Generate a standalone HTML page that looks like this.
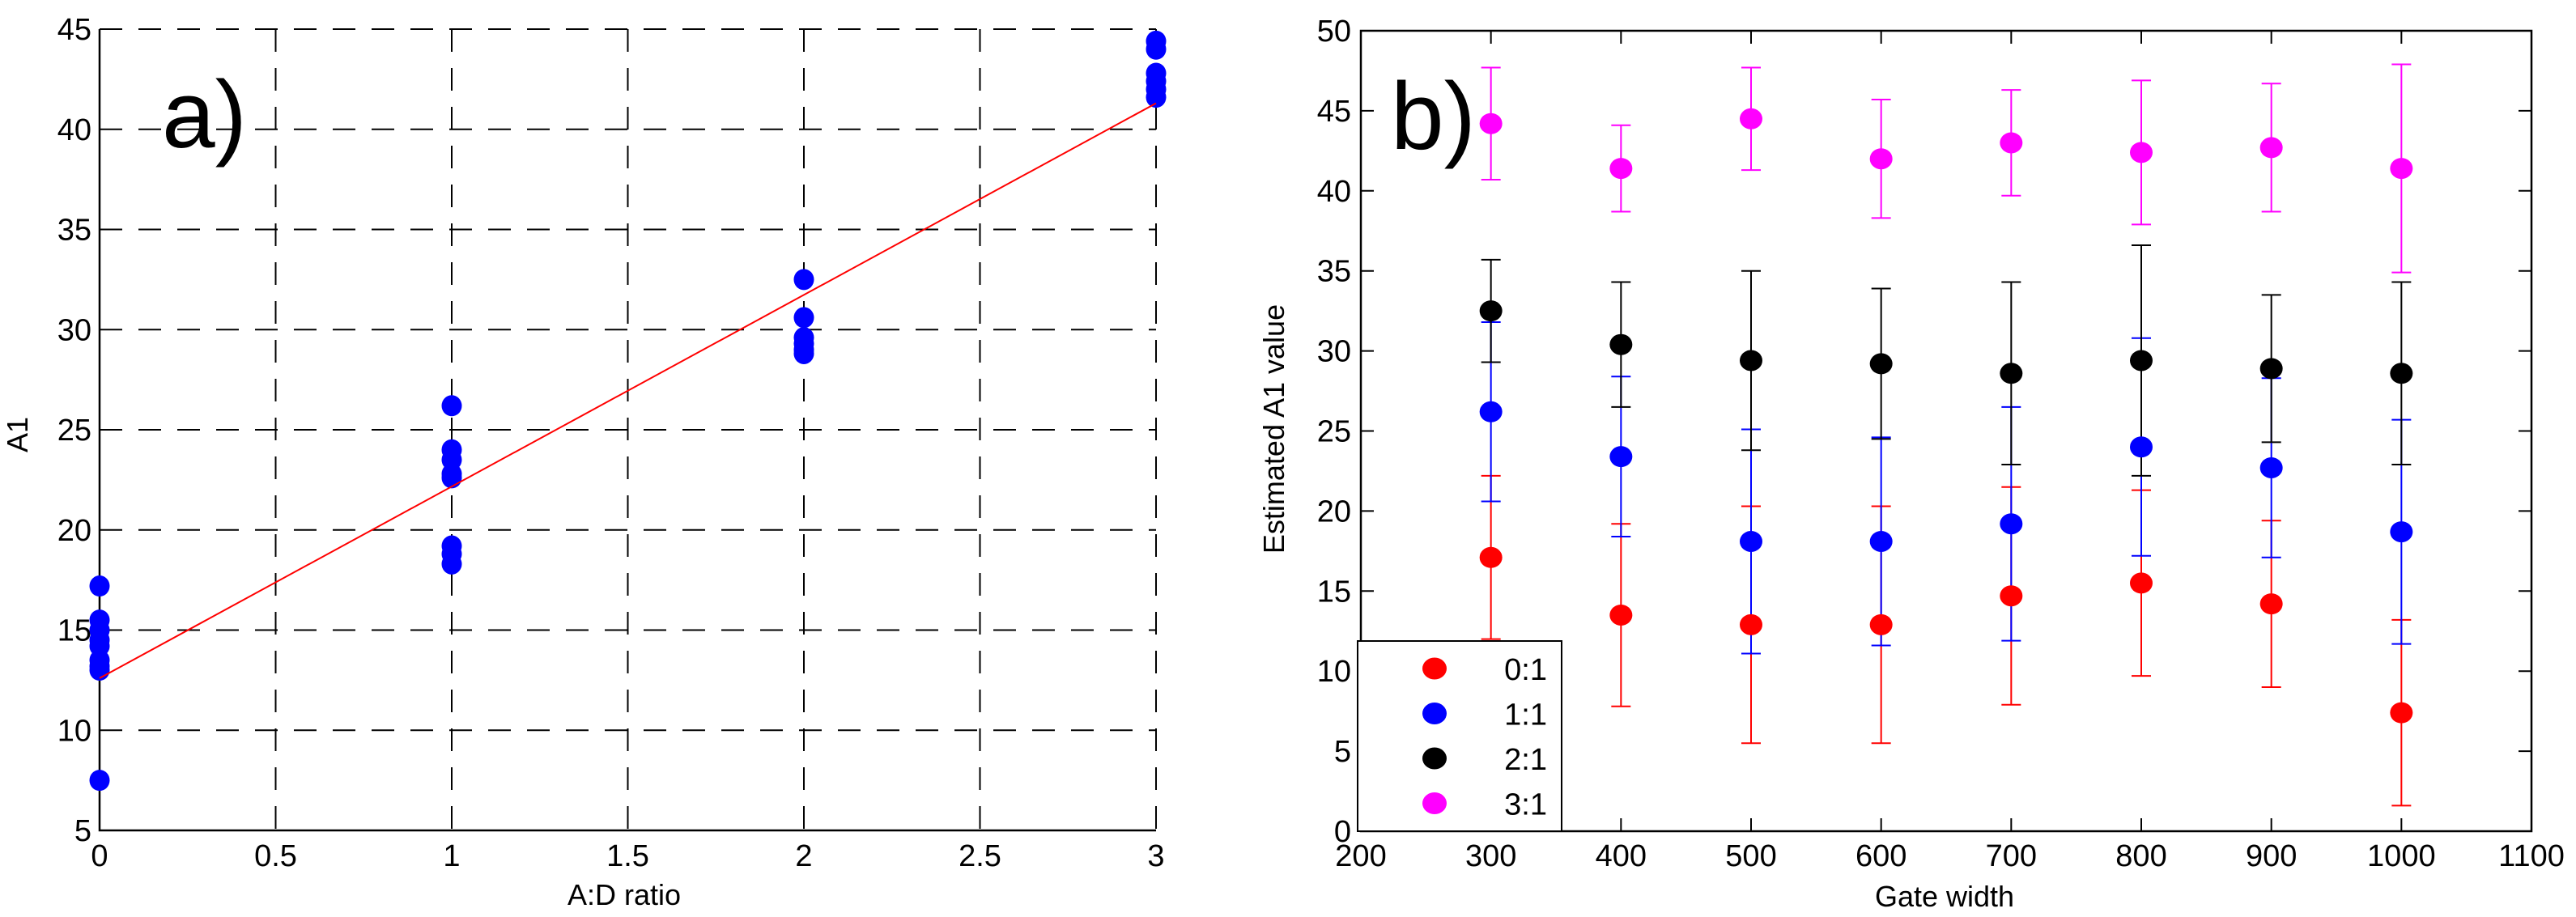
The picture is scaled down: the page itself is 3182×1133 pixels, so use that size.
<!DOCTYPE html>
<html><head><meta charset="utf-8"><style>
html,body{margin:0;padding:0;background:#fff;}
svg{display:block;font-family:"Liberation Sans",sans-serif;}
</style></head><body>
<svg id="fig" width="3182" height="1133" viewBox="0 0 3182 1133" xmlns="http://www.w3.org/2000/svg">
<g id="pa"></g>
<g id="pb"></g>
</svg>
<script>
// Panel a data
const aXTicks = [0, 0.5, 1, 1.5, 2, 2.5, 3];
const aXTickLabels = ["0", "0.5", "1", "1.5", "2", "2.5", "3"];
const aYTicks = [5, 10, 15, 20, 25, 30, 35, 40, 45];
const aPointX = [0,0,0,0,0,0,0,0,0, 1,1,1,1,1,1,1,1, 2,2,2,2,2,2, 3,3,3,3,3,3];
const aPointY = [17.2,15.5,15.0,14.5,14.2,13.5,13.2,13.0,7.5, 26.2,24.0,23.5,22.8,22.6,19.2,18.8,18.3, 32.5,30.6,29.6,29.3,29.0,28.8, 44.4,44.0,42.8,42.4,42.0,41.6];
const aFitX = [0, 3];
const aFitY = [12.6, 41.3];
// Panel b data
const bCategories = [300, 400, 500, 600, 700, 800, 900, 1000];
const bXTicks = [200, 300, 400, 500, 600, 700, 800, 900, 1000, 1100];
const bYTicks = [0, 5, 10, 15, 20, 25, 30, 35, 40, 45, 50];
const bSeriesNames = ["0:1", "1:1", "2:1", "3:1"];
const bMean01 = [17.1, 13.5, 12.9, 12.9, 14.7, 15.5, 14.2, 7.4];
const bErr01 = [5.1, 5.7, 7.4, 7.4, 6.8, 5.8, 5.2, 5.8];
const bMean11 = [26.2, 23.4, 18.1, 18.1, 19.2, 24.0, 22.7, 18.7];
const bErr11 = [5.6, 5.0, 7.0, 6.5, 7.3, 6.8, 5.6, 7.0];
const bMean21 = [32.5, 30.4, 29.4, 29.2, 28.6, 29.4, 28.9, 28.6];
const bErr21 = [3.2, 3.9, 5.6, 4.7, 5.7, 7.2, 4.6, 5.7];
const bMean31 = [44.2, 41.4, 44.5, 42.0, 43.0, 42.4, 42.7, 41.4];
const bErr31 = [3.5, 2.7, 3.2, 3.7, 3.3, 4.5, 4.0, 6.5];

const NS = "http://www.w3.org/2000/svg";
function mk(parent, tag, attrs, text){
  const e = document.createElementNS(NS, tag);
  for (const k in attrs) e.setAttribute(k, attrs[k]);
  if (text !== undefined) e.textContent = text;
  parent.appendChild(e);
  return e;
}

// ---------- Panel a ----------
const pa = document.getElementById('pa');
const aL = 123, aR = 1428, aT = 36, aB = 1026;
const ax = v => aL + (v - 0) / 3 * (aR - aL);
const ay = v => aB - (v - 5) / 40 * (aB - aT);
aXTicks.forEach((t, i) => {
  if (i > 0) {
    const g = mk(pa, 'line', {x1: ax(t), x2: ax(t), y1: aT, y2: aB, stroke: '#000', 'stroke-width': 2, 'stroke-dasharray': '28 20'});
    
    
  }
  const l = mk(pa, 'text', {x: ax(t), y: 1070, 'font-size': 38, 'text-anchor': 'middle'}, aXTickLabels[i]);
  
  
});
aYTicks.forEach(t => {
  if (t > 5) {
    const g = mk(pa, 'line', {x1: aL, x2: aR, y1: ay(t), y2: ay(t), stroke: '#000', 'stroke-width': 2, 'stroke-dasharray': '28 20'});
    
    
  }
  const l = mk(pa, 'text', {x: aL - 10, y: ay(t) + 13, 'font-size': 38, 'text-anchor': 'end'}, String(t));
  
  
});
const aAxes = mk(pa, 'path', {d: `M${aL} ${aT} V${aB} H${aR}`, fill: 'none', stroke: '#000', 'stroke-width': 2.5});


aPointX.forEach((x, i) => {
  const c = mk(pa, 'ellipse', {cx: ax(x), cy: ay(aPointY[i]), rx: 12.5, ry: 13, fill: '#0000ff'});
  
  
});
const fit = mk(pa, 'line', {x1: ax(aFitX[0]), y1: ay(aFitY[0]), x2: ax(aFitX[1]), y2: ay(aFitY[1]), stroke: '#ff0000', 'stroke-width': 2});


const la = mk(pa, 'text', {x: 200, y: 182, 'font-size': 118}, 'a)');


const axt = mk(pa, 'text', {x: 771, y: 1118, 'font-size': 36, 'text-anchor': 'middle'}, 'A:D ratio');


const ayt = mk(pa, 'text', {x: 0, y: 0, 'font-size': 36, 'text-anchor': 'middle', transform: 'translate(34,537) rotate(-90)'}, 'A1');



// ---------- Panel b ----------
const pb = document.getElementById('pb');
const bL = 1681, bR = 3127, bT = 38, bB = 1027;
const bx = v => bL + (v - 200) / 900 * (bR - bL);
const by = v => bB - v / 50 * (bB - bT);
const box = mk(pb, 'rect', {x: bL, y: bT, width: bR - bL, height: bB - bT, fill: 'none', stroke: '#000', 'stroke-width': 2.5});


bXTicks.forEach(t => {
  const tk = mk(pb, 'path', {d: `M${bx(t)} ${bB} v-16 M${bx(t)} ${bT} v16`, stroke: '#000', 'stroke-width': 2});
  
  
  const l = mk(pb, 'text', {x: bx(t), y: 1070, 'font-size': 38, 'text-anchor': 'middle'}, String(t));
  
  
});
bYTicks.forEach(t => {
  const tk = mk(pb, 'path', {d: `M${bL} ${by(t)} h16 M${bR} ${by(t)} h-16`, stroke: '#000', 'stroke-width': 2});
  
  
  const l = mk(pb, 'text', {x: bL - 12, y: by(t) + 13, 'font-size': 38, 'text-anchor': 'end'}, String(t));
  
  
});
const series = [
  {m: bMean01, e: bErr01, c: '#ff0000'},
  {m: bMean11, e: bErr11, c: '#0000ff'},
  {m: bMean21, e: bErr21, c: '#000000'},
  {m: bMean31, e: bErr31, c: '#ff00ff'}
];
series.forEach((s, si) => {
  bCategories.forEach((g, i) => {
    const x = bx(g), hi = by(s.m[i] + s.e[i]), lo = by(s.m[i] - s.e[i]);
    const eb = mk(pb, 'path', {d: `M${x} ${hi} V${lo} M${x-12} ${hi} h24 M${x-12} ${lo} h24`, stroke: s.c, 'stroke-width': 2, fill: 'none'});
    
    
  });
});
series.forEach((s, si) => {
  bCategories.forEach((g, i) => {
    const c = mk(pb, 'ellipse', {cx: bx(g), cy: by(s.m[i]), rx: 14, ry: 13, fill: s.c});
    
    
  });
});
// legend
const leg = mk(pb, 'g', {});


mk(leg, 'rect', {x: 1677, y: 792, width: 252, height: 235, fill: '#fff', stroke: '#000', 'stroke-width': 2});
series.forEach((s, i) => {
  const y = 826 + i * 55.5;
  const m = mk(leg, 'ellipse', {cx: 1772, cy: y, rx: 15, ry: 13.5, fill: s.c});
  
  
  const t = mk(leg, 'text', {x: 1911, y: y + 14, 'font-size': 38, 'text-anchor': 'end'}, bSeriesNames[i]);
  
  
});
const lb = mk(pb, 'text', {x: 1718, y: 184, 'font-size': 118}, 'b)');


const bxt = mk(pb, 'text', {x: 2402, y: 1120, 'font-size': 36, 'text-anchor': 'middle'}, 'Gate width');


const byt = mk(pb, 'text', {x: 0, y: 0, 'font-size': 36, 'text-anchor': 'middle', transform: 'translate(1586,530) rotate(-90)'}, 'Estimated A1 value');


</script>
</body></html>
